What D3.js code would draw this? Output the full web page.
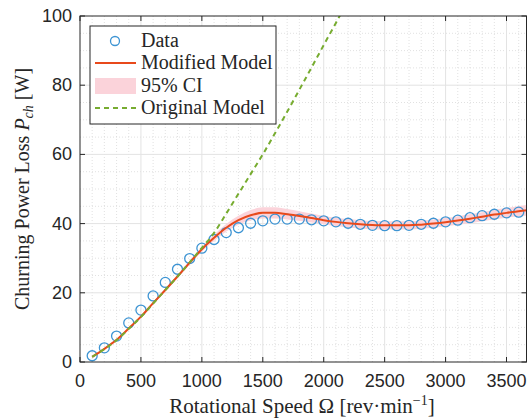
<!DOCTYPE html>
<html>
<head>
<meta charset="utf-8">
<script src="https://cdn.jsdelivr.net/npm/d3@7"></script>
<style>
  body { margin: 0; background: #fff; }
  svg { display: block; }
</style>
</head>
<body>
<svg width="527" height="419"></svg>
<script>
"use strict"

// measured data (rev/min, W)
var dataSpeed = [100, 200, 300, 400, 500, 600, 700, 800, 900, 1000, 1100, 1200, 1300, 1400, 1500, 1600, 1700, 1800,
                 1900, 2000, 2100, 2200, 2300, 2400, 2500, 2600, 2700, 2800, 2900, 3000, 3100, 3200, 3300, 3400, 3500, 3600];
var dataPower = [1.8, 4.1, 7.5, 11.3, 15.0, 19.1, 23.0, 26.8, 29.9, 32.9, 35.4, 37.4, 38.8, 40.1, 40.8, 41.3, 41.3, 41.3,
                 41.1, 40.8, 40.5, 40.1, 39.8, 39.5, 39.4, 39.4, 39.5, 39.8, 40.1, 40.5, 41.0, 41.7, 42.3, 42.7, 43.1, 43.3];

// modified model and its 95% CI half width
var modelSpeed = [100, 200, 300, 400, 500, 600, 700, 800, 900, 1000, 1100, 1200, 1300, 1400, 1500, 1600, 1700, 1800, 1900,
                  2000, 2100, 2200, 2300, 2400, 2500, 2600, 2700, 2800, 2900, 3000, 3100, 3200, 3300, 3400, 3500, 3600, 3700];
var modelPower = [1.5, 3.8, 6.4, 9.7, 13.1, 17.0, 20.8, 24.7, 28.7, 32.6, 35.9, 38.8, 41.0, 42.4, 43.1, 43.1, 42.7, 42.2, 41.6,
                  41.0, 40.5, 40.1, 39.8, 39.6, 39.5, 39.5, 39.5, 39.7, 40.0, 40.4, 40.9, 41.4, 42.0, 42.6, 43.1, 43.6, 44.0];
var ciHalf     = [0.2, 0.2, 0.3, 0.3, 0.4, 0.4, 0.5, 0.5, 0.6, 0.7, 0.9, 1.1, 1.3, 1.5, 1.6, 1.6, 1.5, 1.4, 1.3,
                  1.2, 1.2, 1.2, 1.2, 1.2, 1.2, 1.2, 1.2, 1.2, 1.2, 1.2, 1.2, 1.3, 1.3, 1.4, 1.4, 1.5, 1.5];

// original model
var origSpeed = [100, 200, 300, 400, 500, 600, 700, 800, 900, 1000, 1100, 1200, 1300, 1400, 1500, 1600, 1700, 1800, 1900, 2000, 2100, 2200];
var origPower = [1.5, 3.7, 6.3, 9.6, 13.0, 16.9, 20.8, 24.7, 28.8, 33.0, 37.3, 42.9, 48.6, 54.3, 60.0, 66.1, 72.3, 78.7, 85.1, 91.6, 98.0, 104.5];

var xTicks = [0, 500, 1000, 1500, 2000, 2500, 3000, 3500];
var yTicks = [0, 20, 40, 60, 80, 100];
var legendLabels = ["Data", "Modified Model", "95% CI", "Original Model"];

var colBlue = "#3d94d3", colRed = "#e8491b", colGreen = "#77ac30", colPink = "#fbd3da";
var axisCol = "#262626";

var margin = {left: 80, top: 16, right: 0.5, bottom: 57};
var W = 527, H = 419;
var x = d3.scaleLinear().domain([0, 3664]).range([margin.left, W - margin.right]);
var y = d3.scaleLinear().domain([0, 100]).range([H - margin.bottom, margin.top]);

var svg = d3.select("svg");
var x0 = x.range()[0], x1 = x.range()[1], y0 = y.range()[0], y1 = y.range()[1];

// grid
var grid = svg.append("g");
grid.selectAll(".minx").data(d3.range(100, 3700, 100).filter(function(v){ return v % 500 != 0; }))
  .enter().append("line")
  .attr("x1", function(d){ return x(d); }).attr("x2", function(d){ return x(d); })
  .attr("y1", y0).attr("y2", y1)
  .style("stroke", "#d4d4d4").style("stroke-width", 0.7).style("stroke-dasharray", "1,2");
grid.selectAll(".miny").data(d3.range(5, 100, 5).filter(function(v){ return v % 20 != 0; }))
  .enter().append("line")
  .attr("x1", x0).attr("x2", x1)
  .attr("y1", function(d){ return y(d); }).attr("y2", function(d){ return y(d); })
  .style("stroke", "#d4d4d4").style("stroke-width", 0.7).style("stroke-dasharray", "1,2");
grid.selectAll(".majx").data(xTicks.slice(1))
  .enter().append("line")
  .attr("x1", function(d){ return x(d); }).attr("x2", function(d){ return x(d); })
  .attr("y1", y0).attr("y2", y1)
  .style("stroke", "#e3e3e3").style("stroke-width", 1);
grid.selectAll(".majy").data(yTicks.slice(1, -1))
  .enter().append("line")
  .attr("x1", x0).attr("x2", x1)
  .attr("y1", function(d){ return y(d); }).attr("y2", function(d){ return y(d); })
  .style("stroke", "#e3e3e3").style("stroke-width", 1);

var plot = svg.append("g");
plot.append("clipPath").attr("id", "clip").append("rect")
  .attr("x", x0).attr("y", y1).attr("width", x1 - x0).attr("height", y0 - y1);
var inner = plot.append("g").attr("clip-path", "url(#clip)");

// CI band
var model = modelSpeed.map(function(s, i){ return {s: s, p: modelPower[i], h: ciHalf[i]}; });
inner.append("path").datum(model)
  .attr("d", d3.area().curve(d3.curveMonotoneX)
    .x(function(d){ return x(d.s); })
    .y0(function(d){ return y(d.p - d.h); })
    .y1(function(d){ return y(d.p + d.h); }))
  .style("fill", colPink).style("stroke", "none");

// data circles
inner.selectAll("circle.data").data(dataSpeed)
  .enter().append("circle")
  .attr("cx", function(d){ return x(d); })
  .attr("cy", function(d, i){ return y(dataPower[i]); })
  .attr("r", 5)
  .style("fill", "none").style("stroke", colBlue).style("stroke-width", 1.3);

// modified model
inner.append("path").datum(model)
  .attr("d", d3.line().curve(d3.curveMonotoneX)
    .x(function(d){ return x(d.s); }).y(function(d){ return y(d.p); }))
  .style("fill", "none").style("stroke", colRed).style("stroke-width", 2);

// original model
var orig = origSpeed.map(function(s, i){ return {s: s, p: origPower[i]}; });
inner.append("path").datum(orig)
  .attr("d", d3.line().curve(d3.curveMonotoneX)
    .x(function(d){ return x(d.s); }).y(function(d){ return y(d.p); }))
  .style("fill", "none").style("stroke", colGreen).style("stroke-width", 2)
  .style("stroke-dasharray", "5,4");

// axes box
var box = svg.append("g").style("stroke", axisCol).style("stroke-width", 1).style("fill", "none");
box.append("rect").attr("x", x0).attr("y", y1).attr("width", x1 - x0).attr("height", y0 - y1);

var tl = 5;
box.selectAll(".tx").data(xTicks).enter().append("path")
  .attr("d", function(d){ var p = x(d); return "M" + p + "," + y0 + "v" + (-tl) + "M" + p + "," + y1 + "v" + tl; });
box.selectAll(".ty").data(yTicks).enter().append("path")
  .attr("d", function(d){ var p = y(d); return "M" + x0 + "," + p + "h" + tl + "M" + x1 + "," + p + "h" + (-tl); });

var tickFont = "'Liberation Sans', Arial, sans-serif";
svg.selectAll(".xlab").data(xTicks).enter().append("text")
  .attr("x", function(d){ return x(d); }).attr("y", y0 + 25)
  .attr("text-anchor", "middle")
  .style("font-family", tickFont).style("font-size", "18px").style("fill", axisCol)
  .text(function(d){ return d; });
svg.selectAll(".ylab").data(yTicks).enter().append("text")
  .attr("x", x0 - 8).attr("y", function(d){ return y(d) + 6; })
  .attr("text-anchor", "end")
  .style("font-family", tickFont).style("font-size", "18px").style("fill", axisCol)
  .text(function(d){ return d; });

var serif = "'Liberation Serif', 'Times New Roman', serif";

// axis titles
var xt = svg.append("text").attr("x", 302).attr("y", 413).attr("text-anchor", "middle")
  .style("font-family", serif).style("font-size", "21px").style("fill", axisCol);
xt.append("tspan").text("Rotational Speed Ω [rev·min");
xt.append("tspan").attr("dy", -8).style("font-size", "14px").text("−1");
xt.append("tspan").attr("dy", 8).text("]");

var yt = svg.append("text").attr("transform", "translate(29,189) rotate(-90)").attr("text-anchor", "middle")
  .style("font-family", serif).style("font-size", "20px").style("fill", axisCol);
yt.append("tspan").text("Churning Power Loss ");
yt.append("tspan").style("font-style", "italic").text("P");
yt.append("tspan").attr("dy", 4).style("font-style", "italic").style("font-size", "14px").text("ch");
yt.append("tspan").attr("dy", -4).text(" [W]");

// legend
var lg = svg.append("g");
lg.append("rect").attr("x", 90).attr("y", 26).attr("width", 186).attr("height", 98)
  .style("fill", "#fff").style("stroke", axisCol).style("stroke-width", 1);
var rowY = [41, 63, 86, 108];
lg.append("circle").attr("cx", 115).attr("cy", rowY[0]).attr("r", 4.5)
  .style("fill", "none").style("stroke", colBlue).style("stroke-width", 1.3);
lg.append("line").attr("x1", 95).attr("x2", 136).attr("y1", rowY[1]).attr("y2", rowY[1])
  .style("stroke", colRed).style("stroke-width", 2);
lg.append("rect").attr("x", 95).attr("y", rowY[2] - 8).attr("width", 41).attr("height", 16)
  .style("fill", colPink);
lg.append("line").attr("x1", 95).attr("x2", 136).attr("y1", rowY[3]).attr("y2", rowY[3])
  .style("stroke", colGreen).style("stroke-width", 2).style("stroke-dasharray", "5,4");
lg.selectAll(".lt").data(legendLabels).enter().append("text")
  .attr("x", 141).attr("y", function(d, i){ return rowY[i] + 6; })
  .style("font-family", serif).style("font-size", "20px").style("fill", axisCol)
  .text(function(d){ return d; });
</script>
</body>
</html>
